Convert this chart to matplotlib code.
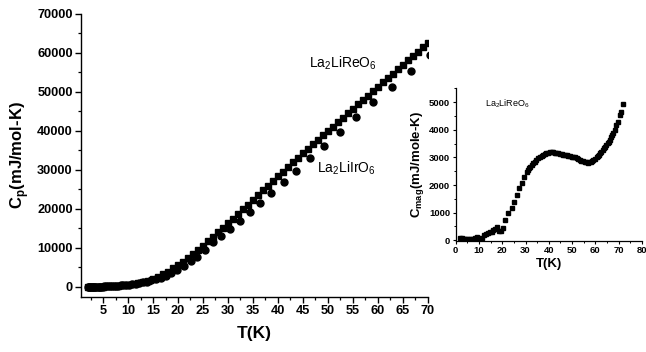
import matplotlib
matplotlib.use("Agg")
import matplotlib.pyplot as plt
from matplotlib.ticker import MultipleLocator

plt.rcParams['font.family'] = ['Liberation Sans', 'DejaVu Sans']
plt.rcParams['mathtext.fontset'] = 'custom'
plt.rcParams['mathtext.rm'] = 'Liberation Sans'
plt.rcParams['mathtext.bf'] = 'Liberation Sans:bold'

# ---- main panel data: La2LiReO6 (squares) ----
T_re = [2, 3, 4, 5, 6, 7, 8, 9, 10, 11, 12, 13, 14, 15, 16, 17, 18, 19, 20,
        21, 22, 23, 24, 25, 26, 27, 28, 29, 30, 31, 32, 33, 34, 35, 36, 37, 38,
        39, 40, 41, 42, 43, 44, 45, 46, 47, 48, 49, 50, 51, 52, 53, 54, 55, 56,
        57, 58, 59, 60, 61, 62, 63, 64, 65, 66, 67, 68, 69, 70]
Cp_re = [15, 30, 50, 80, 120, 180, 260, 370, 510, 690, 920, 1220, 1600, 2050,
         2600, 3200, 3900, 4700, 5550, 6450, 7400, 8400, 9450, 10550, 11700,
         12850, 14000, 15150, 16300, 17500, 18700, 19900, 21100, 22300, 23500,
         24700, 25900, 27100, 28300, 29500, 30700, 31900, 33100, 34300, 35430,
         36560, 37690, 38820, 39950, 41080, 42210, 43340, 44470, 45600, 46730,
         47860, 48990, 50120, 51250, 52380, 53510, 54640, 55770, 56900, 58030,
         59160, 60290, 61420, 62550]

# ---- main panel data: La2LiIrO6 (circles) ----
T_ir = [2.0, 2.1, 2.25, 2.4, 2.55, 2.7, 2.9, 3.05, 3.25, 3.45, 3.65, 3.9, 4.1,
        4.4, 4.65, 4.95, 5.25, 5.6, 5.9, 6.3, 6.7, 7.1, 7.55, 8.0, 8.5, 9.05,
        9.6, 10.2, 10.8, 11.5, 12.2, 13.0, 13.8, 14.65, 15.55, 16.5, 17.55,
        18.65, 19.8, 21.2, 22.6, 23.9, 25.4, 27.1, 28.7, 30.4, 32.4, 34.4,
        36.5, 38.7, 41.2, 43.6, 46.4, 49.3, 52.4, 55.7, 59.1, 62.9, 66.7, 70.4]
Cp_ir = [12, 13, 15, 17, 19, 22, 25, 28, 32, 36, 41, 47, 54, 62, 72, 84, 98,
         115, 135, 160, 190, 225, 265, 310, 365, 430, 505, 590, 690, 810, 960,
         1140, 1360, 1630, 1960, 2380, 2900, 3500, 4250, 5300, 6500, 7700,
         9500, 11400, 13000, 14900, 16900, 19200, 21600, 24150, 26900, 29700,
         33100, 36150, 39800, 43400, 47250, 51200, 55200, 59500]

# ---- inset data: magnetic heat capacity of La2LiReO6 ----
T_mag = [1.8, 2.6, 3.4, 4.2, 5.0, 5.8, 6.6, 7.4, 8.2, 9.0, 9.8, 10.6, 11.4,
         12.2, 13.0, 13.8, 14.6, 15.4, 16.2, 17.0, 17.8, 18.6, 19.4, 20.2,
         21.2, 22.6, 24.0, 25.0, 26.2, 27.3, 28.3, 29.5, 30.5, 31.1, 31.6,
         32.1, 32.6, 33.3, 34.0, 34.7, 35.5, 36.2, 36.9, 37.6, 38.3, 39.0,
         39.7, 40.4, 41.2, 41.9, 42.6, 43.3, 44.0, 44.7, 45.5, 46.2, 46.9,
         47.6, 48.3, 49.0, 49.8, 50.5, 51.2, 51.9, 52.6, 53.3, 54.0, 54.7,
         55.4, 56.1, 56.9, 57.4, 57.9, 58.5, 59.0, 59.7, 60.5, 61.0, 61.6,
         62.1, 62.6, 63.2, 63.7, 64.2, 64.7, 65.2, 65.7, 66.2, 66.6, 67.1,
         67.6, 68.3, 69.0, 69.7, 70.5, 70.8, 71.9]
C_mag = [70, 65, 60, 55, 45, 35, 30, 50, 90, 110, 80, 40, 70, 180, 210, 250,
         290, 310, 360, 420, 470, 330, 320, 430, 734, 976, 1157, 1396, 1638,
         1880, 2083, 2300, 2481, 2545, 2604, 2665, 2723, 2785, 2843, 2905,
         2966, 3010, 3049, 3085, 3121, 3145, 3168, 3180, 3193, 3180, 3168,
         3157, 3146, 3133, 3121, 3103, 3085, 3072, 3060, 3042, 3024, 3012,
         3000, 2970, 2940, 2910, 2880, 2856, 2832, 2820, 2808, 2825, 2843,
         2873, 2904, 2950, 3000, 3042, 3085, 3145, 3205, 3266, 3327, 3387,
         3447, 3507, 3567, 3646, 3725, 3797, 3870, 3990, 4170, 4290, 4532,
         4651, 4929]

fig = plt.figure(figsize=(6.46, 3.52), dpi=100)

# ---------------- main axes ----------------
ax = fig.add_axes([0.1254, 0.1563, 0.5371, 0.8048])
ax.plot(T_re, Cp_re, linestyle='none', marker='s', ms=4.2, color='black',
        mec='black', clip_on=True)
ax.plot(T_ir, Cp_ir, linestyle='none', marker='o', ms=5.0, color='black',
        mec='black', clip_on=True)
ax.set_xlim(0.6, 70)
ax.set_ylim(-2600, 70000)
for s in ('top', 'right'):
    ax.spines[s].set_visible(False)
for s in ('left', 'bottom'):
    ax.spines[s].set_linewidth(1.0)
ax.xaxis.set_major_locator(MultipleLocator(5))
ax.xaxis.set_minor_locator(MultipleLocator(2.5))
ax.yaxis.set_major_locator(MultipleLocator(10000))
ax.yaxis.set_minor_locator(MultipleLocator(5000))
ax.set_xticks(range(5, 71, 5))
ax.tick_params(which='major', direction='out', length=4, width=1,
               labelsize=9.2, pad=2)
ax.tick_params(which='minor', direction='out', length=2.5, width=0.9)
for lab in ax.get_xticklabels() + ax.get_yticklabels():
    lab.set_fontweight('bold')
ax.set_xlabel('T(K)', fontsize=12.5, fontweight='bold', labelpad=6)
ax.set_ylabel(r'C$_\mathregular{p}$(mJ/mol-K)', fontsize=12, fontweight='bold',
              labelpad=4)
ax.text(46.2, 57200, r'La$_\mathregular{2}$LiReO$_\mathregular{6}$',
        fontsize=10, ha='left', va='center')
ax.text(47.8, 30300, r'La$_\mathregular{2}$LiIrO$_\mathregular{6}$',
        fontsize=10, ha='left', va='center')

# ---------------- inset axes ----------------
ins = fig.add_axes([0.7053, 0.3162, 0.2885, 0.4330])
ins.plot(T_mag, C_mag, linestyle='none', marker='s', ms=2.4, color='black',
         mec='black')
ins.set_xlim(0, 80)
ins.set_ylim(-15, 5500)
for s in ('top', 'right'):
    ins.spines[s].set_visible(False)
for s in ('left', 'bottom'):
    ins.spines[s].set_linewidth(0.9)
ins.xaxis.set_major_locator(MultipleLocator(10))
ins.xaxis.set_minor_locator(MultipleLocator(5))
ins.yaxis.set_major_locator(MultipleLocator(1000))
ins.yaxis.set_minor_locator(MultipleLocator(500))
ins.tick_params(which='major', direction='out', length=2.5, width=0.8,
                labelsize=6.8, pad=1.5)
ins.tick_params(which='minor', direction='out', length=1.5, width=0.7)
for lab in ins.get_xticklabels() + ins.get_yticklabels():
    lab.set_fontweight('bold')
ins.set_xlabel('T(K)', fontsize=9.5, fontweight='bold', labelpad=2)
ins.set_ylabel(r'C$_\mathregular{mag}$(mJ/mole-K)', fontsize=9.5,
               fontweight='bold', labelpad=2)
ins.text(12.6, 4930, r'La$_\mathregular{2}$LiReO$_\mathregular{6}$',
         fontsize=6.5, ha='left', va='center')

fig.savefig('out.png', dpi=100)
